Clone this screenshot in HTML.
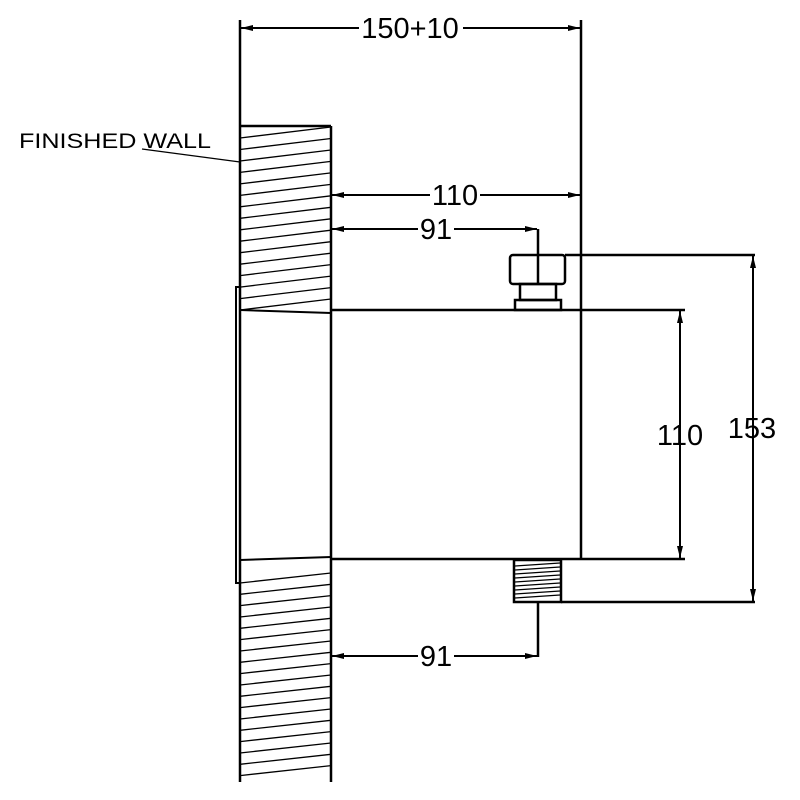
<!DOCTYPE html>
<html><head><meta charset="utf-8"><style>
html,body{margin:0;padding:0;background:#fff;}
svg{display:block;}
text{font-family:"Liberation Sans",Arial,sans-serif;fill:#000;}
</style></head><body>
<svg width="800" height="800" viewBox="0 0 800 800" xmlns="http://www.w3.org/2000/svg">
<defs>
<marker id="a" viewBox="0 0 12 6" refX="12" refY="3" markerWidth="12" markerHeight="6" orient="auto-start-reverse" markerUnits="userSpaceOnUse">
<path d="M0,0 L12,3 L0,6 z" fill="#000"/>
</marker>
</defs>
<g stroke="#000" fill="none">
<!-- wall -->
<line x1="240" y1="126" x2="240" y2="782" stroke-width="2.5"/>
<line x1="331" y1="126" x2="331" y2="782" stroke-width="2.5"/>
<line x1="240" y1="126" x2="331" y2="126" stroke-width="2.5"/>
<g stroke-width="1.3">
<line x1="240" y1="138" x2="331" y2="127"/>
<line x1="240" y1="149.5" x2="331" y2="138.5"/>
<line x1="240" y1="161" x2="331" y2="150"/>
<line x1="240" y1="172.4" x2="331" y2="161.4"/>
<line x1="240" y1="183.9" x2="331" y2="172.9"/>
<line x1="240" y1="195.4" x2="331" y2="184.4"/>
<line x1="240" y1="206.8" x2="331" y2="195.8"/>
<line x1="240" y1="218.3" x2="331" y2="207.3"/>
<line x1="240" y1="229.8" x2="331" y2="218.8"/>
<line x1="240" y1="241.2" x2="331" y2="230.2"/>
<line x1="240" y1="252.7" x2="331" y2="241.7"/>
<line x1="240" y1="264.2" x2="331" y2="253.2"/>
<line x1="240" y1="275.6" x2="331" y2="264.6"/>
<line x1="240" y1="287.1" x2="331" y2="276.1"/>
<line x1="240" y1="298.6" x2="331" y2="287.6"/>
<line x1="240" y1="310" x2="331" y2="299"/>
<line x1="240" y1="310" x2="331" y2="313" stroke-width="2"/>
<line x1="240" y1="560" x2="331" y2="557" stroke-width="2"/>
<line x1="240" y1="583" x2="331" y2="573"/>
<line x1="240" y1="594.3" x2="331" y2="584.3"/>
<line x1="240" y1="605.6" x2="331" y2="595.6"/>
<line x1="240" y1="617" x2="331" y2="607"/>
<line x1="240" y1="628.3" x2="331" y2="618.3"/>
<line x1="240" y1="639.6" x2="331" y2="629.6"/>
<line x1="240" y1="651" x2="331" y2="641"/>
<line x1="240" y1="662.3" x2="331" y2="652.3"/>
<line x1="240" y1="673.6" x2="331" y2="663.6"/>
<line x1="240" y1="685" x2="331" y2="675"/>
<line x1="240" y1="696.3" x2="331" y2="686.3"/>
<line x1="240" y1="707.6" x2="331" y2="697.6"/>
<line x1="240" y1="719" x2="331" y2="709"/>
<line x1="240" y1="730.3" x2="331" y2="720.3"/>
<line x1="240" y1="741.6" x2="331" y2="731.6"/>
<line x1="240" y1="753" x2="331" y2="743"/>
<line x1="240" y1="764.3" x2="331" y2="754.3"/>
<line x1="240" y1="775.6" x2="331" y2="765.6"/>
</g>
<!-- plate -->
<polyline points="240,287 236,287 236,583 240,583" stroke-width="2"/>
<!-- box -->
<line x1="331" y1="310" x2="685" y2="310" stroke-width="2.5"/>
<line x1="331" y1="559" x2="685" y2="559" stroke-width="2.5"/>
<line x1="581" y1="20" x2="581" y2="559" stroke-width="2.5"/>
<!-- nut -->
<rect x="510" y="255" width="55" height="29" rx="3" stroke-width="2.5"/>
<line x1="538" y1="229" x2="538" y2="284" stroke-width="2.5"/>
<rect x="520" y="284" width="36" height="16" stroke-width="2.5"/>
<rect x="515" y="300" width="46" height="10" stroke-width="2.5"/>
<!-- bottom thread -->
<rect x="514" y="560" width="47" height="42" stroke-width="2.5"/>
<g stroke-width="1.2">
<line x1="515" y1="566" x2="560" y2="563"/>
<line x1="515" y1="570" x2="560" y2="567"/>
<line x1="515" y1="574" x2="560" y2="571"/>
<line x1="515" y1="578" x2="560" y2="575"/>
<line x1="515" y1="582" x2="560" y2="579"/>
<line x1="515" y1="586" x2="560" y2="583"/>
<line x1="515" y1="590" x2="560" y2="587"/>
<line x1="515" y1="594" x2="560" y2="591"/>
<line x1="515" y1="598" x2="560" y2="595"/>
</g>
<!-- extension lines -->
<line x1="240" y1="20" x2="240" y2="126" stroke-width="2.5"/>
<line x1="565" y1="255" x2="755" y2="255" stroke-width="2.5"/>
<line x1="561" y1="602" x2="755" y2="602" stroke-width="2.5"/>
<line x1="538" y1="602" x2="538" y2="657" stroke-width="2.5"/>
<!-- dimension lines -->
<g stroke-width="2" marker-start="url(#a)" marker-end="url(#a)">
<line x1="241" y1="28" x2="580" y2="28"/>
<line x1="332" y1="195" x2="580" y2="195"/>
<line x1="332" y1="229" x2="537" y2="229"/>
<line x1="332" y1="656" x2="537" y2="656"/>
<line x1="680" y1="311" x2="680" y2="558"/>
<line x1="753" y1="256" x2="753" y2="601"/>
</g>
<!-- leader -->
<line x1="142" y1="149" x2="240" y2="162" stroke-width="1.3"/>
</g>
<g font-size="29">
<rect x="359" y="14" width="104" height="28" fill="#fff"/>
<text x="410" y="38" text-anchor="middle">150+10</text>
<rect x="430" y="182" width="50" height="26" fill="#fff"/>
<text x="455" y="205" text-anchor="middle">110</text>
<rect x="418" y="216" width="36" height="26" fill="#fff"/>
<text x="436" y="239" text-anchor="middle">91</text>
<rect x="418" y="643" width="36" height="26" fill="#fff"/>
<text x="436" y="666" text-anchor="middle">91</text>
<text x="680" y="445" text-anchor="middle">110</text>
<text x="752" y="438" text-anchor="middle">153</text>
</g>
<text x="19" y="148" font-size="21" textLength="192" lengthAdjust="spacingAndGlyphs">FINISHED WALL</text>
</svg>
</body></html>
